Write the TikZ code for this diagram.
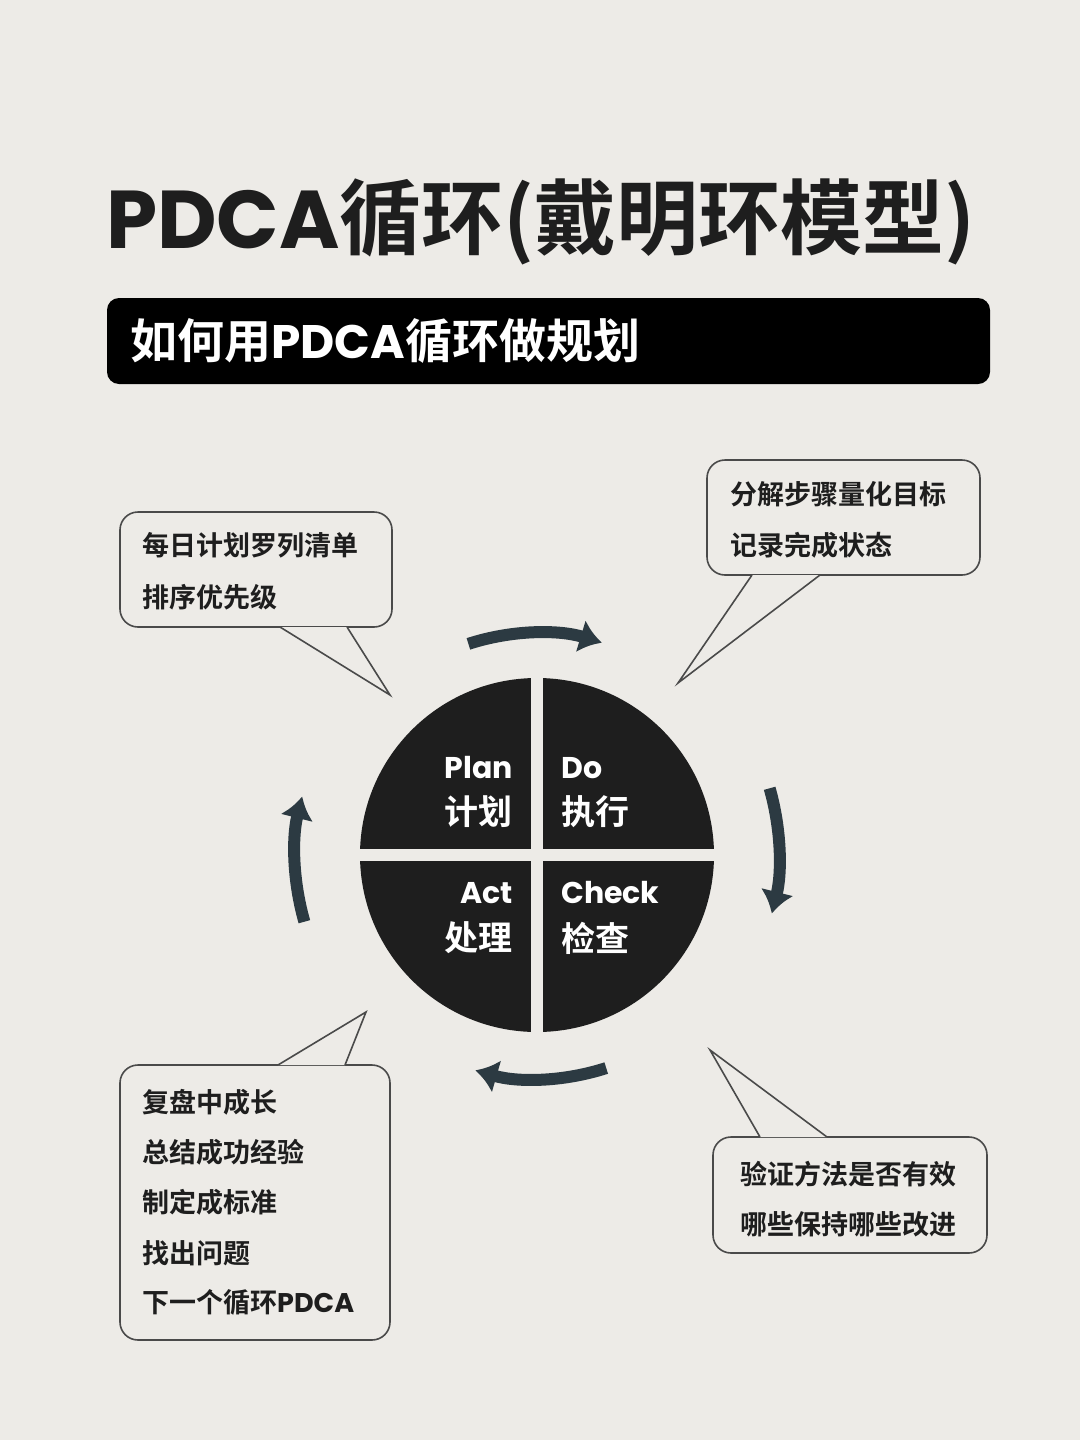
\documentclass[tikz,border=0pt]{standalone}
\usepackage{fontspec}
\setmainfont{Noto Sans CJK SC Bold}
\newfontfamily\lat{Poppins Bold}
\usetikzlibrary{arrows.meta}
\definecolor{bg}{HTML}{EDEBE7}
\definecolor{ink}{HTML}{1E1E1E}
\definecolor{slate}{HTML}{2C3A42}
\definecolor{edge}{HTML}{4A4A4A}
\tikzset{
  box/.style={draw=edge, line width=1.6pt, fill=bg, rounded corners=18pt},
  tip/.style={draw=edge, line width=1.6pt, line join=miter},
  say/.style={anchor=west, inner sep=0pt, font=\fontsize{27}{27}\selectfont, text=ink},
  quad/.style={inner sep=0pt, text=white, font=\fontsize{34}{34}\selectfont},
  quadlat/.style={inner sep=0pt, text=white, font=\lat\fontsize{30}{30}\selectfont},
  turn/.style={draw=slate, line width=12pt, -{Latex[length=22pt,width=34pt]}},
}
\newcommand\bubble[8]{% x1,y1,x2,y2, base a, base b (x at edge y), tip, edge y
  \draw[box] (#1,#2) rectangle (#3,#4);
  \fill[bg] (#5,#8) -- (#7) -- (#6,#8) -- cycle;
  \draw[tip] (#5,#8) -- (#7) -- (#6,#8);
}
\begin{document}
\begin{tikzpicture}[x=1pt,y=-1pt]
\fill[bg] (0,0) rectangle (1080,1440);
\useasboundingbox (0,0) rectangle (1080,1440);

% title and banner
\node[anchor=west, inner sep=0pt, text=ink] (title) at (106,222)
  {\fontsize{82}{82}\selectfont{\lat PDCA}循环(戴明环模型)};
\fill[black, rounded corners=12pt] (107,298) rectangle (990,384);
\node[anchor=west, inner sep=0pt, text=white] (banner) at (130,341)
  {\fontsize{47}{47}\selectfont 如何用{\lat PDCA}循环做规划};

% wheel
\fill[ink] (537,855) circle (177);
\draw[bg, line width=12pt] (537,670) -- (537,1040) (350,855) -- (724,855);
\node[quadlat, anchor=east] (plan) at (513,768) {Plan};
\node[quad, anchor=east] (plancn) at (513,812) {计划};
\node[quadlat, anchor=west] (do) at (561,768) {Do};
\node[quad, anchor=west] (docn) at (561,812) {执行};
\node[quadlat, anchor=east] (act) at (513,893) {Act};
\node[quad, anchor=east] (actcn) at (513,938) {处理};
\node[quadlat, anchor=west] (check) at (561,893) {Check};
\node[quad, anchor=west] (checkcn) at (561,938) {检查};

% turning arrows
\draw[turn] ([shift={(-108:222)}]537,855) arc (-108:-73:222);
\draw[turn] ([shift={(-16:242)}]537,855) arc (-16:14:242);
\draw[turn] ([shift={(72:224)}]537,855) arc (72:106:224);
\draw[turn] ([shift={(164:242)}]537,855) arc (164:194:242);

% callouts
\coordinate (tl) at (390,695);
\coordinate (tr) at (678,683);
\coordinate (bl) at (366,1012);
\coordinate (br) at (710,1050);
\bubble{120}{512}{392}{627}{280}{347}{tl}{627}
\bubble{707}{460}{980}{575}{752}{820}{tr}{575}
\bubble{120}{1065}{390}{1340}{278}{345}{bl}{1065}
\bubble{713}{1137}{987}{1253}{760}{827}{br}{1137}

\node[say] (plan1) at (142,545) {每日计划罗列清单};
\node[say] (plan2) at (142,597) {排序优先级};
\node[say] (do1) at (730,494) {分解步骤量化目标};
\node[say] (do2) at (730,545) {记录完成状态};
\node[say] (act1) at (142,1102) {复盘中成长};
\node[say] (act2) at (142,1152) {总结成功经验};
\node[say] (act3) at (142,1202) {制定成标准};
\node[say] (act4) at (142,1253) {找出问题};
\node[say] (act5) at (142,1302) {下一个循环{\lat PDCA}};
\node[say] (check1) at (740,1174) {验证方法是否有效};
\node[say] (check2) at (740,1224) {哪些保持哪些改进};
\end{tikzpicture}
\end{document}
